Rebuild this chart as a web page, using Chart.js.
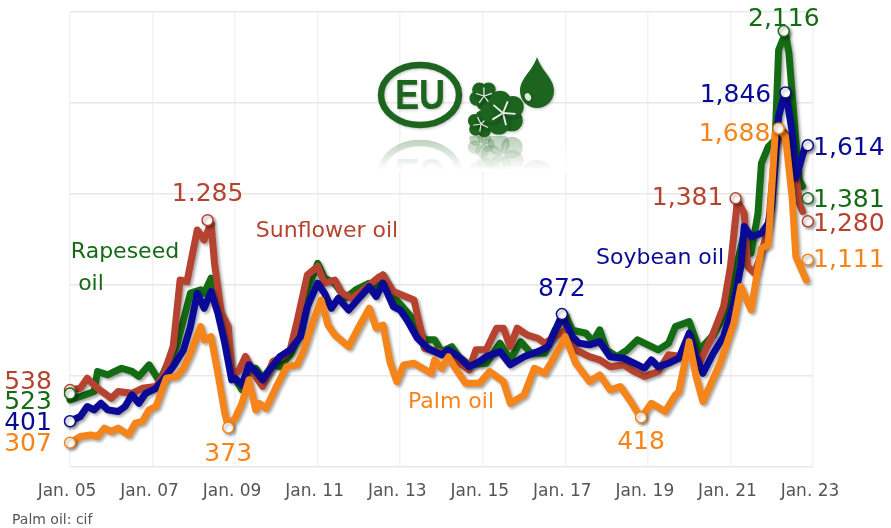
<!DOCTYPE html>
<html>
<head>
<meta charset="utf-8">
<title>EU vegetable oil prices</title>
<script src="https://cdn.jsdelivr.net/npm/chart.js@4/dist/chart.umd.min.js"></script>
<style>
html, body { margin: 0; padding: 0; background: #fff; }
canvas { display: block; filter: blur(0.6px); }
</style>
</head>
<body>
<canvas id="oilChart" width="891" height="528"></canvas>
<script>
// months counted from Jan. 05
const tickLabels = ['Jan. 05', 'Jan. 07', 'Jan. 09', 'Jan. 11', 'Jan. 13', 'Jan. 15', 'Jan. 17', 'Jan. 19', 'Jan. 21', 'Jan. 23'];

const rapeseedMonths = [0,3,7,8,11,13,15,18,20,23,26,28,31,33,35,38,39,41,43,45,47,50,52,54,56,59,61,64,67,69,72,74,77,80,83,87,89,91,93,97,100,103,106,108,111,113,116,121,125,128,131,134,138,141,144,146,150,152,154,156,159,162,165,171,174,176,180,183,187,189,192,194,196,198,200,201,203,205,206,208,209,211,212,213];
const rapeseedValues = [495,510,532,620,605,620,634,620,598,649,576,642,730,847,964,979,964,1030,905,817,612,539,627,634,590,649,641,693,788,978,1095,1030,1008,942,978,1008,993,1044,964,898,846,759,759,707,729,685,649,656,744,671,751,700,700,802,868,802,788,751,803,715,685,715,759,715,744,817,839,715,781,832,949,1096,1228,1140,1315,1535,1608,1638,2033,2107,2019,1638,1462,1433];

const sunflowerMonths = [0,3,5,8,10,12,14,18,21,25,27,30,32,34,37,39,41,42,44,46,47,49,51,54,56,59,62,64,66,69,72,74,77,79,82,87,90,91,94,100,102,103,107,110,116,118,121,124,126,128,130,133,136,138,141,144,147,151,154,157,161,164,167,171,174,178,180,183,187,190,192,194,196,197,199,201,203,205,207,209,211,212,213];
const sunflowerValues = [539,546,590,546,524,502,532,524,546,554,598,730,1022,1015,1242,1198,1272,1096,876,817,620,620,686,598,554,664,686,715,839,1044,1081,1008,1022,964,942,1000,1037,1044,971,934,802,722,707,693,627,715,715,810,810,729,810,780,766,744,773,802,715,685,671,641,649,620,598,620,693,685,773,656,788,905,1081,1370,1315,1081,1052,1140,1250,1600,1680,1650,1500,1360,1323];

const soybeanMonths = [0,3,5,7,9,11,14,16,18,20,22,25,27,30,33,35,37,39,41,43,45,47,48,50,52,54,56,58,61,64,67,69,72,74,76,78,81,84,87,89,91,94,96,98,101,104,108,110,113,116,119,121,125,128,132,136,139,143,146,148,151,154,157,161,165,167,169,171,174,177,180,182,184,187,190,193,195,196,198,201,203,204,206,208,210,211,214];
const soybeanValues = [401,422,466,451,480,451,444,466,517,480,524,546,583,642,715,817,964,898,971,876,744,583,590,561,649,620,583,627,685,715,773,905,1008,964,898,942,890,942,993,949,1008,905,890,846,766,722,693,715,685,641,663,685,707,649,685,707,729,868,773,744,737,751,685,678,649,634,671,641,656,678,788,685,612,700,773,920,1081,1257,1213,1227,1271,1345,1740,1855,1667,1469,1623];

const palmMonths = [0,3,6,8,10,12,14,17,19,21,23,25,28,31,33,35,38,39,41,43,45,46,48,50,52,54,55,57,60,63,66,68,71,73,75,77,81,84,87,89,91,93,95,97,100,105,106,108,110,112,115,119,122,126,128,132,135,138,140,144,147,151,154,157,160,163,166,169,173,176,177,180,182,184,189,193,195,198,201,203,205,206,208,210,211,214];
const palmValues = [307,334,341,334,371,356,371,341,393,400,451,466,590,598,634,700,817,759,773,612,436,378,415,480,583,451,480,458,554,641,649,715,854,934,824,780,729,817,898,810,824,663,575,649,656,612,671,634,685,634,568,568,619,575,480,517,634,612,663,773,656,576,605,539,554,488,415,480,444,517,532,751,598,488,656,832,993,891,1161,1176,1667,1688,1652,1374,1125,1022];

// circled values written on the chart
const rapeseedMarkMonths = [0, 207.5, 214.5];
const rapeseedMarkValues = [523, 2116, 1381];
const sunflowerMarkMonths = [0, 40, 193.5, 214.5];
const sunflowerMarkValues = [538, 1285, 1381, 1280];
const soybeanMarkMonths = [0, 143, 208, 214.5];
const soybeanMarkValues = [401, 872, 1846, 1614];
const palmMarkMonths = [0, 46, 166, 206, 214.5];
const palmMarkValues = [307, 373, 418, 1688, 1111];

const green = '#136b14';
const red = '#b6432f';
const blue = '#0a0a96';
const orange = '#f5851a';

function toPoints(months, values) {
    return months.map((m, i) => ({ x: m, y: values[i] }));
}

// lower order is drawn on top
function lineSet(label, months, values, color, order) {
    return {
        label: label,
        data: toPoints(months, values),
        order: order,
        borderColor: color,
        borderWidth: 7,
        borderJoinStyle: 'round',
        borderCapStyle: 'round',
        pointRadius: 0,
        tension: 0,
        clip: false
    };
}

function markSet(label, months, values, color) {
    return {
        label: label,
        data: toPoints(months, values),
        order: 0,
        showLine: false,
        pointRadius: 5.5,
        pointBorderWidth: 1.5,
        pointBackgroundColor: '#fff',
        pointBorderColor: color,
        clip: false
    };
}

// text next to each circled value, as offset from the circle
const valueTexts = [
    { set: 4, i: 0, text: '523', color: green, dx: -42, dy: 9 },
    { set: 4, i: 1, text: '2,116', color: green, dx: 0, dy: -12 },
    { set: 4, i: 2, text: '1,381', color: green, dx: 41, dy: 2 },
    { set: 5, i: 0, text: '538', color: red, dx: -42, dy: -8 },
    { set: 5, i: 1, text: '1.285', color: red, dx: 0, dy: -26 },
    { set: 5, i: 2, text: '1,381', color: red, dx: -48, dy: 0 },
    { set: 5, i: 3, text: '1,280', color: red, dx: 41, dy: 3 },
    { set: 6, i: 0, text: '401', color: blue, dx: -42, dy: 2 },
    { set: 6, i: 1, text: '872', color: blue, dx: 0, dy: -25 },
    { set: 6, i: 2, text: '1,846', color: blue, dx: -50, dy: 3 },
    { set: 6, i: 3, text: '1,614', color: blue, dx: 41, dy: 3 },
    { set: 7, i: 0, text: '307', color: orange, dx: -42, dy: 2 },
    { set: 7, i: 1, text: '373', color: orange, dx: 0, dy: 27 },
    { set: 7, i: 2, text: '418', color: orange, dx: 0, dy: 25 },
    { set: 7, i: 3, text: '1,688', color: orange, dx: -44, dy: 6 },
    { set: 7, i: 4, text: '1,111', color: orange, dx: 41, dy: 1 }
];

const seriesNames = [
    { text: 'Rapeseed', color: green, x: 125, y: 252 },
    { text: 'oil', color: green, x: 91, y: 284 },
    { text: 'Sunflower oil', color: red, x: 327, y: 231 },
    { text: 'Soybean oil', color: blue, x: 660, y: 258 },
    { text: 'Palm oil', color: orange, x: 451, y: 402 }
];

function drawFlower(ctx, cx, cy, r, turn) {
    ctx.fillStyle = '#1d641e';
    for (let i = 0; i < 5; i++) {
        const a = turn + i * Math.PI * 2 / 5;
        ctx.beginPath();
        ctx.arc(cx + Math.cos(a) * r * 0.55, cy + Math.sin(a) * r * 0.55, r * 0.52, 0, Math.PI * 2);
        ctx.fill();
    }
    ctx.strokeStyle = '#e6efe6';
    ctx.lineWidth = Math.max(1, r * 0.09);
    for (let i = 0; i < 5; i++) {
        const a = turn + Math.PI / 5 + i * Math.PI * 2 / 5;
        ctx.beginPath();
        ctx.moveTo(cx, cy);
        ctx.lineTo(cx + Math.cos(a) * r * 0.6, cy + Math.sin(a) * r * 0.6);
        ctx.stroke();
    }
}

function drawLogoShapes(ctx) {
    ctx.strokeStyle = '#1d641e';
    ctx.lineWidth = 6.5;
    ctx.beginPath();
    ctx.ellipse(420, 95, 39, 30, 0, 0, Math.PI * 2);
    ctx.stroke();
    ctx.fillStyle = '#1d641e';
    ctx.font = 'bold 42px "Liberation Sans"';
    ctx.textAlign = 'center';
    ctx.textBaseline = 'middle';
    ctx.save();
    ctx.translate(420, 97);
    ctx.scale(0.86, 1);
    ctx.fillText('EU', 0, 0);
    ctx.restore();
    drawFlower(ctx, 484, 96, 14, 0.3);
    drawFlower(ctx, 481, 124, 13, 1.1);
    drawFlower(ctx, 503, 113, 21, 0.7);
    // oil drop
    ctx.fillStyle = '#1d641e';
    ctx.beginPath();
    ctx.moveTo(537, 57);
    ctx.bezierCurveTo(542, 72, 554, 78, 554, 91);
    ctx.bezierCurveTo(554, 101, 546, 108, 537, 108);
    ctx.bezierCurveTo(528, 108, 520, 101, 520, 91);
    ctx.bezierCurveTo(520, 78, 532, 72, 537, 57);
    ctx.fill();
    ctx.fillStyle = '#dfe9df';
    ctx.beginPath();
    ctx.ellipse(528, 97, 3, 4, -0.4, 0, Math.PI * 2);
    ctx.fill();
}

const logoPlugin = {
    id: 'logo',
    beforeDatasetsDraw(chart) {
        const ctx = chart.ctx;
        ctx.save();
        ctx.shadowColor = 'rgba(0,0,0,0.25)';
        ctx.shadowBlur = 3;
        ctx.shadowOffsetX = 1;
        ctx.shadowOffsetY = 1;
        drawLogoShapes(ctx);
        ctx.restore();
        // faded mirror image under the logo
        ctx.save();
        ctx.beginPath();
        ctx.rect(372, 136, 195, 36);
        ctx.clip();
        ctx.save();
        ctx.globalAlpha = 0.3;
        ctx.translate(0, 268);
        ctx.scale(1, -1);
        drawLogoShapes(ctx);
        ctx.restore();
        const fade = ctx.createLinearGradient(0, 138, 0, 170);
        fade.addColorStop(0, 'rgba(255,255,255,0)');
        fade.addColorStop(1, 'rgba(255,255,255,1)');
        ctx.fillStyle = fade;
        ctx.fillRect(372, 136, 195, 36);
        ctx.restore();
    }
};

// drop shadow under the lines
const shadowPlugin = {
    id: 'lineShadow',
    beforeDatasetsDraw(chart) {
        const ctx = chart.ctx;
        ctx.save();
        ctx.shadowColor = 'rgba(0,0,0,0.35)';
        ctx.shadowBlur = 3;
        ctx.shadowOffsetX = 2;
        ctx.shadowOffsetY = 2;
    },
    afterDatasetsDraw(chart) {
        chart.ctx.restore();
    }
};

const textPlugin = {
    id: 'chartTexts',
    afterDatasetsDraw(chart) {
        const ctx = chart.ctx;
        ctx.save();
        ctx.textAlign = 'center';
        ctx.textBaseline = 'middle';
        ctx.font = '25px "DejaVu Sans"';
        valueTexts.forEach(t => {
            const p = chart.getDatasetMeta(t.set).data[t.i];
            ctx.fillStyle = t.color;
            ctx.fillText(t.text, p.x + t.dx, p.y + t.dy);
        });
        ctx.font = '22px "DejaVu Sans"';
        seriesNames.forEach(t => {
            ctx.fillStyle = t.color;
            ctx.fillText(t.text, t.x, t.y);
        });
        ctx.font = '14px "DejaVu Sans"';
        ctx.textAlign = 'left';
        ctx.fillStyle = '#555';
        ctx.fillText('Palm oil: cif', 12, 520);
        ctx.restore();
    }
};

new Chart(document.getElementById('oilChart').getContext('2d'), {
    type: 'line',
    data: {
        datasets: [
            lineSet('Rapeseed oil', rapeseedMonths, rapeseedValues, green, 4),
            lineSet('Sunflower oil', sunflowerMonths, sunflowerValues, red, 3),
            lineSet('Soybean oil', soybeanMonths, soybeanValues, blue, 2),
            lineSet('Palm oil', palmMonths, palmValues, orange, 1),
            markSet('Rapeseed oil marks', rapeseedMarkMonths, rapeseedMarkValues, green),
            markSet('Sunflower oil marks', sunflowerMarkMonths, sunflowerMarkValues, red),
            markSet('Soybean oil marks', soybeanMarkMonths, soybeanMarkValues, blue),
            markSet('Palm oil marks', palmMarkMonths, palmMarkValues, orange)
        ]
    },
    options: {
        responsive: false,
        animation: false,
        layout: { padding: { left: 70, right: 78, top: 12, bottom: 0 } },
        plugins: { legend: { display: false }, tooltip: { enabled: false } },
        scales: {
            x: {
                type: 'linear',
                min: 0,
                max: 216,
                afterFit(scale) { scale.height = 61; },
                grid: { color: '#f2f2f2', lineWidth: 1.5, drawTicks: false },
                border: { display: false },
                ticks: {
                    stepSize: 24,
                    autoSkip: false,
                    maxRotation: 0,
                    padding: 14,
                    labelOffset: -3,
                    color: '#555',
                    font: { family: '"DejaVu Sans"', size: 17 },
                    callback: v => tickLabels[v / 24]
                }
            },
            y: {
                min: 200,
                max: 2200,
                afterFit(scale) { scale.width = 0; },
                grid: { color: '#e8e8e8', lineWidth: 1.5, drawTicks: false },
                border: { display: false },
                ticks: { stepSize: 400, display: false }
            }
        }
    },
    plugins: [logoPlugin, shadowPlugin, textPlugin]
});
</script>
</body>
</html>
